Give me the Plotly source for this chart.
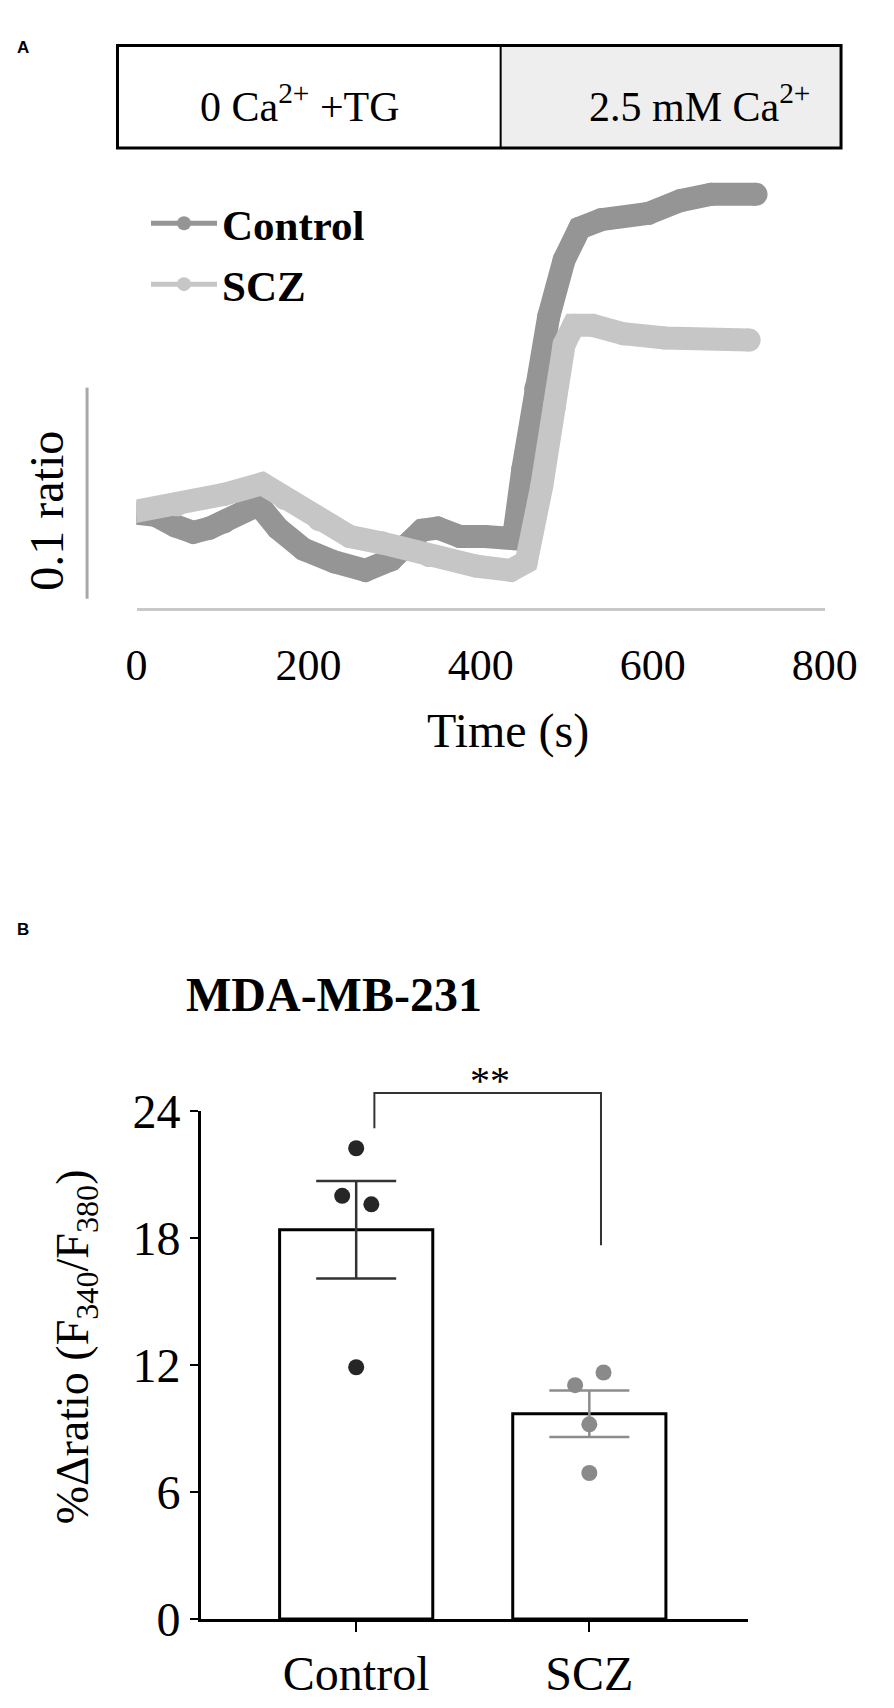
import plotly.graph_objects as go

W, H = 894, 1708
SERIF = "Liberation Serif, Times New Roman, serif"

# ---- panel A: ratio traces (time in s, ratio F340/F380)
ctrl_t = [0, 22, 45, 66, 85, 102, 125, 142, 164, 194, 230, 266, 296, 315, 332, 350,
          376, 405, 438, 449, 464, 479, 497, 515, 540, 595, 632, 668, 720]
ctrl_ratio = [0.645, 0.644, 0.639, 0.636, 0.638, 0.641, 0.646, 0.649, 0.638, 0.628,
              0.622, 0.618, 0.623, 0.630, 0.637, 0.638, 0.634, 0.634, 0.633, 0.666,
              0.704, 0.738, 0.765, 0.780, 0.784, 0.787, 0.793, 0.796, 0.796]
scz_t = [0, 47, 102, 146, 172, 212, 248, 285, 340, 395, 435, 453, 471, 486, 497,
         508, 530, 566, 614, 712]
scz_ratio = [0.646, 0.649, 0.654, 0.659, 0.652, 0.642, 0.634, 0.631, 0.625, 0.620,
             0.618, 0.622, 0.658, 0.696, 0.725, 0.734, 0.734, 0.730, 0.728, 0.727]
time_ticks = [0, 200, 400, 600, 800]
scale_base = 0.6045   # bottom of the scale bar
scale_len = 0.1

# ---- panel B: %Δratio per group
groups = ["Control", "SCZ"]
ctrl_points = [22.25, 20.0, 19.6, 11.9]
scz_points = [11.65, 11.05, 9.2, 6.9]
group_means = [18.4, 9.7]
group_sem = [2.3, 1.1]
ctrl_jitter = [0.0, -0.06, 0.065, 0.0]
scz_jitter = [0.061, -0.061, 0.0, 0.0]
pct_ticks = [0, 6, 12, 18, 24]

# figure geometry in px
A_X, A_Y = (132, 856), (140, 601)
B_X, B_Y = (200, 775), (1120, 1644)
B_XR, B_YR = (-0.665, 1.68), (0, 24)


def px(x):
    return x / W


def py(y):
    return 1 - y / H


def bx(v):
    f = (v - B_XR[0]) / (B_XR[1] - B_XR[0])
    return px(B_X[0] + f * (B_X[1] - B_X[0]))


def by(v):
    f = (v - B_YR[0]) / (B_YR[1] - B_YR[0])
    return py(B_Y[1] - f * (B_Y[1] - B_Y[0]))


fig = go.Figure()

# traces panel A (drawn thick), legend entries drawn separately with thin lines
trace_colors = {"Control": "#959595", "SCZ": "#c6c6c6"}
fig.add_trace(go.Scatter(x=ctrl_t, y=ctrl_ratio, mode="lines+markers",
                         line=dict(color=trace_colors["Control"], width=23),
                         marker=dict(color=trace_colors["Control"], size=23),
                         showlegend=False, xaxis="x", yaxis="y"))
fig.add_trace(go.Scatter(x=scz_t, y=scz_ratio, mode="lines+markers",
                         line=dict(color=trace_colors["SCZ"], width=23),
                         marker=dict(color=trace_colors["SCZ"], size=23),
                         showlegend=False, xaxis="x", yaxis="y"))
for name, grp in (("Control", "c"), ("SCZ", "s")):
    fig.add_trace(go.Scatter(x=[None], y=[None], name=name, mode="lines+markers",
                             line=dict(color=trace_colors[name], width=5),
                             marker=dict(color=trace_colors[name], size=14),
                             legendgroup=grp, xaxis="x", yaxis="y"))

# bars panel B
err_colors = ["#333333", "#8c8c8c"]
for i, g in enumerate(groups):
    fig.add_trace(go.Bar(x=[i], y=[group_means[i]], width=0.657,
                         marker=dict(color="white", line=dict(color="black", width=3)),
                         error_y=dict(type="data", array=[group_sem[i]], color=err_colors[i],
                                      thickness=2.5, width=40),
                         showlegend=False, xaxis="x2", yaxis="y2"))

fig.add_trace(go.Scatter(x=[0 + j for j in ctrl_jitter], y=ctrl_points, mode="markers",
                         marker=dict(color="#262626", size=16), showlegend=False,
                         xaxis="x2", yaxis="y2"))
fig.add_trace(go.Scatter(x=[1 + j for j in scz_jitter], y=scz_points, mode="markers",
                         marker=dict(color="#8a8a8a", size=16), showlegend=False,
                         xaxis="x2", yaxis="y2"))

shapes = []
# condition box on top
shapes.append(dict(type="rect", xref="paper", yref="paper", x0=px(515), x1=px(873),
                   y0=py(126), y1=py(20), fillcolor="#eeeeee", line=dict(width=0), layer="below"))
shapes.append(dict(type="rect", xref="paper", yref="paper", x0=px(112), x1=px(873),
                   y0=py(126), y1=py(20), line=dict(color="black", width=3)))
shapes.append(dict(type="line", xref="paper", yref="paper", x0=px(515), x1=px(515),
                   y0=py(126), y1=py(20), line=dict(color="black", width=2)))
# scale bar
shapes.append(dict(type="line", xref="paper", yref="y", x0=px(80), x1=px(80),
                   y0=scale_base, y1=scale_base + scale_len,
                   line=dict(color="#a8a8a8", width=3)))
# significance bracket
br_x = [0.078, 1.05]
br_top, br_legs = 24.86, [23.2, 17.66]
shapes.append(dict(type="path", xref="paper", yref="paper",
                   path=f"M {bx(br_x[0])},{by(br_legs[0])} L {bx(br_x[0])},{by(br_top)} "
                        f"L {bx(br_x[1])},{by(br_top)} L {bx(br_x[1])},{by(br_legs[1])}",
                   line=dict(color="#333333", width=2)))

annotations = [
    dict(text="<b>A</b>", x=px(4), y=py(22), xanchor="left", yanchor="middle",
         font=dict(family="Liberation Sans", size=17, color="black")),
    dict(text="<b>B</b>", x=px(4), y=py(932), xanchor="left", yanchor="middle",
         font=dict(family="Liberation Sans", size=17, color="black")),
    dict(text="0 Ca<sup>2+</sup> +TG", x=px(304), y=py(80), xanchor="center", yanchor="middle",
         font=dict(family=SERIF, size=42, color="black")),
    dict(text="2.5 mM Ca<sup>2+</sup>", x=px(724), y=py(80), xanchor="center", yanchor="middle",
         font=dict(family=SERIF, size=42, color="black")),
    dict(text="0.1 ratio", x=px(37), y=py(500), textangle=-90, xanchor="center", yanchor="middle",
         font=dict(family=SERIF, size=48, color="black")),
    dict(text="Time (s)", x=px(523), y=py(728), xanchor="center", yanchor="middle",
         font=dict(family=SERIF, size=48, color="black")),
    dict(text="<b>MDA-MB-231</b>", x=px(340), y=py(1000), xanchor="center", yanchor="middle",
         font=dict(family=SERIF, size=48, color="black")),
    dict(text="**", x=px(504), y=py(1088), xanchor="center", yanchor="middle",
         font=dict(family=SERIF, size=40, color="black")),
    dict(text="%Δratio (F<sub>340</sub>/F<sub>380</sub>)", x=px(68), y=py(1363), textangle=-90,
         xanchor="center", yanchor="middle", font=dict(family=SERIF, size=46, color="black")),
]
for a in annotations:
    a.update(xref="paper", yref="paper", showarrow=False)

fig.update_layout(
    width=W, height=H,
    margin=dict(l=0, r=0, t=0, b=0),
    paper_bgcolor="white", plot_bgcolor="white",
    font=dict(family=SERIF, color="black"),
    barmode="overlay",
    shapes=shapes, annotations=annotations,
    showlegend=True,
    legend=dict(x=px(142), y=py(168), xanchor="left", yanchor="top",
                font=dict(family=SERIF, size=43, color="black", weight="bold"),
                itemwidth=66, traceorder="grouped", tracegroupgap=2,
                bgcolor="rgba(0,0,0,0)"),
    xaxis=dict(domain=[px(A_X[0]), px(A_X[1])], range=[0, 800], anchor="y",
               showline=True, linecolor="#c8c8c8", linewidth=3, showgrid=False, zeroline=False,
               ticks="", tickvals=time_ticks, ticklabelstandoff=16, ticklabeloverflow="allow",
               tickfont=dict(family=SERIF, size=44, color="black")),
    yaxis=dict(domain=[py(A_Y[1]), py(A_Y[0])], range=[0.60, 0.60 + 461 / 2180],
               anchor="x", visible=False),
    xaxis2=dict(domain=[px(B_X[0]), px(B_X[1])], range=list(B_XR), anchor="y2",
                showline=True, linecolor="black", linewidth=3, showgrid=False, zeroline=False,
                ticks="outside", ticklen=10, tickwidth=2, tickcolor="black",
                tickvals=[0, 1], ticktext=groups,
                tickfont=dict(family=SERIF, size=48, color="black")),
    yaxis2=dict(domain=[py(B_Y[1]), py(B_Y[0])], range=list(B_YR), anchor="x2",
                showline=True, linecolor="black", linewidth=3, showgrid=False, zeroline=False,
                ticks="outside", ticklen=8, tickwidth=2, tickcolor="black",
                tickvals=pct_ticks, tickfont=dict(family=SERIF, size=48, color="black")),
)

fig.write_html("out.html", config=dict(displayModeBar=False),
               post_script="document.body.style.margin='0';")
